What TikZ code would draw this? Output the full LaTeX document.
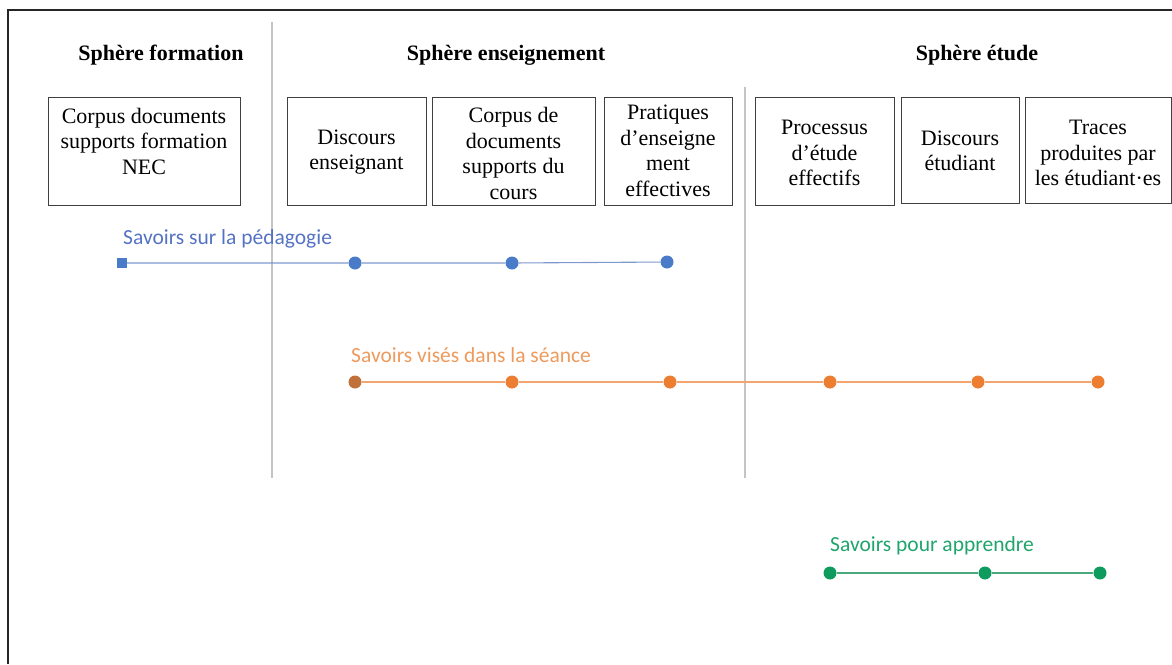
\documentclass[tikz,border=0pt]{standalone}
\usepackage{fontspec}
\setmainfont{Liberation Serif}
\newfontfamily\labelfont{Carlito}
\definecolor{bluedot}{HTML}{4A7BC8}
\definecolor{blueline}{HTML}{8098CC}
\definecolor{bluetext}{HTML}{5573C4}
\definecolor{orangedot}{HTML}{ED7D31}
\definecolor{orangedark}{HTML}{C0703A}
\definecolor{orangeline}{HTML}{F2A56E}
\definecolor{orangetext}{HTML}{EE9A5C}
\definecolor{greendot}{HTML}{0E9B5E}
\definecolor{greenline}{HTML}{4AA87C}
\definecolor{greentext}{HTML}{1FA46C}
\definecolor{divider}{HTML}{C4C4C4}
\tikzset{
  boxframe/.style={draw=black!75, line width=1pt, inner sep=0pt},
  boxtext/.style={align=center, inner sep=0pt, font=\fontsize{22}{25.5}\selectfont},
  header/.style={inner sep=0pt, font=\fontsize{22}{26}\selectfont\bfseries},
  dot/.style={circle, fill=#1, minimum size=13pt, inner sep=0pt},
  sqdot/.style={rectangle, fill=#1, minimum size=10pt, inner sep=0pt},
  knowlabel/.style={anchor=west, inner sep=0pt, text=#1, font=\fontsize{21.5}{24}\labelfont},
  divline/.style={draw=divider, line width=1.2pt},
}
\begin{document}
\begin{tikzpicture}[x=1pt,y=-1pt]
\useasboundingbox (0,0) rectangle (1172,664);
% frame (top and left edges visible)
\coordinate (fTL) at (8,10);
\coordinate (fTR) at (1172,10);
\coordinate (fBL) at (8,664);
\draw[line width=2.2pt, black!85] (fBL) -- (fTL) -- (fTR);
% dividers
\coordinate (d1t) at (272,22);
\coordinate (d1b) at (272,478);
\coordinate (d2t) at (745,87);
\coordinate (d2b) at (745,478);
\draw[divline] (d1t) -- (d1b);
\draw[divline] (d2t) -- (d2b);
% headers
\node[header] (h1) at (161,55) {Sphère formation};
\node[header] (h2) at (506,55) {Sphère enseignement};
\node[header] (h3) at (977,55) {Sphère étude};
% boxes
\node[boxframe, minimum width=192pt, minimum height=108pt] (b1) at (144,151) {};
\node[boxframe, minimum width=139pt, minimum height=108pt] (b2) at (356.5,151) {};
\node[boxframe, minimum width=163pt, minimum height=108pt] (b3) at (513.5,151) {};
\node[boxframe, minimum width=128pt, minimum height=108pt] (b4) at (668,151) {};
\node[boxframe, minimum width=139pt, minimum height=108pt] (b5) at (824.5,151) {};
\node[boxframe, minimum width=118pt, minimum height=106pt] (b6) at (960,150) {};
\node[boxframe, minimum width=146pt, minimum height=106pt] (b7) at (1098,150) {};
\node[boxtext] (t1) at (144,141) {Corpus documents\\supports formation\\NEC};
\node[boxtext] (t2) at (356.5,152) {Discours\\enseignant};
\node[boxtext] (t3) at (513.5,153.5) {Corpus de\\documents\\supports du\\cours};
\node[boxtext] (t4) at (668,151) {Pratiques\\d’enseigne\\ment\\effectives};
\node[boxtext] (t5) at (824.5,153) {Processus\\d’étude\\effectifs};
\node[boxtext] (t6) at (960,151) {Discours\\étudiant};
\node[boxtext] (t7) at (1098,153) {Traces\\produites par\\les étudiant·es};
% blue: savoirs sur la pedagogie
\node[knowlabel=bluetext] (lb) at (123,239) {Savoirs sur la pédagogie};
\node[sqdot=bluedot] (p1) at (122,263) {};
\node[dot=bluedot] (p2) at (355,263) {};
\node[dot=bluedot] (p3) at (512,263) {};
\node[dot=bluedot] (p4) at (667,262) {};
\draw[blueline, line width=1.1pt] (p1) -- (p2) -- (p3) -- (p4);
% orange: savoirs vises dans la seance
\node[knowlabel=orangetext] (lo) at (351,355) {Savoirs visés dans la séance};
\node[dot=orangedark] (o1) at (355,382) {};
\node[dot=orangedot] (o2) at (512,382) {};
\node[dot=orangedot] (o3) at (670,382) {};
\node[dot=orangedot] (o4) at (830,382) {};
\node[dot=orangedot] (o5) at (978,382) {};
\node[dot=orangedot] (o6) at (1098,382) {};
\draw[orangeline, line width=1.1pt] (o1) -- (o2) -- (o3) -- (o4) -- (o5) -- (o6);
% green: savoirs pour apprendre
\node[knowlabel=greentext] (lg) at (830,546) {Savoirs pour apprendre};
\node[dot=greendot] (g1) at (830,573) {};
\node[dot=greendot] (g2) at (985,573) {};
\node[dot=greendot] (g3) at (1100,573) {};
\draw[greenline, line width=1.1pt] (g1) -- (g2) -- (g3);
\end{tikzpicture}
\end{document}
